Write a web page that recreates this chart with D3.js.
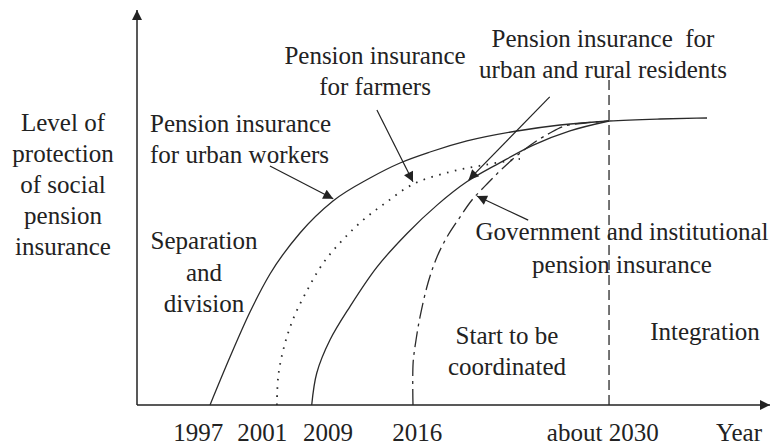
<!DOCTYPE html>
<html>
<head>
<meta charset="utf-8">
<script src="https://cdn.jsdelivr.net/npm/d3@7"></script>
<style>
  html, body { margin: 0; padding: 0; background: #fff; }
  svg { display: block; }
  text { font-family: "Liberation Serif", "Times New Roman", "DejaVu Serif", serif; fill: #222; }
</style>
</head>
<body>
<svg id="chart" width="771" height="446"></svg>
<script>
// ---------------- DATA (conceptual units 0–100) ----------------
const tickLabels = ["1997", "2001", "2009", "2016", "about 2030"];
const tickValues = [9.6, 19.7, 30.1, 44.2, 73.5];
const xAxisTitle = "Year";
const yAxisTitle = ["Level of", "protection", "of social", "pension", "insurance"];

// Curve: pension insurance for urban workers (from 1997)
const urbanWorkersX = [11.53, 14.69, 17.85, 21.01, 25.75, 30.96, 36.81, 41.55, 46.29, 52.13, 60.03, 66.82, 74.57, 82.62, 90.05];
const urbanWorkersY = [0, 12.15, 23.54, 33.16, 43.54, 51.65, 57.47, 61.27, 64.05, 66.84, 69.37, 70.89, 71.90, 72.41, 72.66];

// Curve: pension insurance for farmers (from 2001)
const farmersX = [22.1, 22.3, 23.1, 24.6, 26.9, 29.4, 32.5, 35.7, 39.2, 43.6, 49.4, 55.0, 60.5];
const farmersY = [0, 7.1, 13.9, 21.5, 29.1, 35.9, 41.8, 46.8, 51.1, 55.9, 59.0, 60.8, 62.3];

// Curve: pension insurance for urban and rural residents (from 2009)
const residentsX = [27.6, 28.4, 30.5, 33.6, 37.9, 42.7, 47.4, 52.1, 57.3, 62.6, 68.4, 74.57];
const residentsY = [0, 8.1, 16.5, 24.8, 34.9, 43.5, 50.6, 56.5, 61.3, 65.8, 69.4, 71.9];

// Curve: government and institutional pension insurance (from 2016)
const governmentX = [43.6, 43.62, 44.08, 44.71, 45.97, 47.39, 48.97, 51.03, 52.92, 55.29, 57.82, 60.51, 62.87, 65.24, 67.61, 70.77, 74.57];
const governmentY = [0, 10.63, 16.46, 22.28, 30.89, 37.47, 42.53, 47.59, 51.90, 55.95, 60.0, 63.80, 66.58, 68.86, 70.63, 71.39, 71.9];

// Integration boundary (about 2030)
const boundaryX = 74.57;
const boundaryTop = 83;

// Pointer arrows: [tailX, tailY, tipX, tipY]
const pointerWorkers   = [21.0, 60.5, 31.0, 52.2];
const pointerFarmers   = [37.9, 74.7, 43.6, 56.5];
const pointerResidents = [65.2, 78.0, 52.4, 57.0];
const pointerGov       = [61.8, 46.8, 53.7, 52.9];

// Annotation texts
const labelWorkers   = ["Pension insurance", "for urban workers"];
const labelFarmers   = ["Pension insurance", "for farmers"];
const labelResidents = ["Pension insurance  for", "urban and rural residents"];
const labelGov       = ["Government and institutional", "pension insurance"];
const labelStage1    = ["Separation", "and", "division"];
const labelStage2    = ["Start to be", "coordinated"];
const labelStage3    = ["Integration"];

// ---------------- DRAWING ----------------
const svg = d3.select("#chart");
const x = d3.scaleLinear().domain([0, 100]).range([137, 770]);
const y = d3.scaleLinear().domain([0, 100]).range([405, 10]);
const ink = "#222";
const serif = '"Liberation Serif", "Times New Roman", "DejaVu Serif", serif';
const fs = "25px";

const defs = svg.append("defs");
function marker(id, w, h) {
  defs.append("marker")
    .attr("id", id)
    .attr("viewBox", "0 0 10 10")
    .attr("refX", 10).attr("refY", 5)
    .attr("markerWidth", w).attr("markerHeight", h)
    .attr("markerUnits", "userSpaceOnUse")
    .attr("orient", "auto")
    .append("path").attr("d", "M0,0 L10,5 L0,10 Z").attr("fill", ink);
}
marker("axisArrow", 11, 10);
marker("ptrArrow", 13, 10);

// Axes lines with arrows
svg.append("line")
  .attr("x1", x(0)).attr("y1", y(0)).attr("x2", x(0)).attr("y2", y(100))
  .attr("stroke", ink).attr("stroke-width", 1.5).attr("marker-end", "url(#axisArrow)");
svg.append("line")
  .attr("x1", x(0)).attr("y1", y(0)).attr("x2", x(100)).attr("y2", y(0))
  .attr("stroke", ink).attr("stroke-width", 1.5).attr("marker-end", "url(#axisArrow)");

// Tick labels via d3 axis
const axis = d3.axisBottom(x)
  .tickValues(tickValues)
  .tickFormat((d, i) => tickLabels[i])
  .tickSize(0).tickSizeOuter(0).tickPadding(0);
const gAxis = svg.append("g").attr("transform", `translate(0,${y(0)})`).call(axis);
gAxis.attr("font-family", null).attr("font-size", null);
gAxis.select(".domain").remove();
gAxis.selectAll("text")
  .attr("dy", 0).attr("y", 36)
  .style("font-family", serif)
  .style("font-size", fs).attr("fill", ink);

svg.append("text").attr("x", x(95.1)).attr("y", y(0) + 36)
  .attr("text-anchor", "middle").style("font-family", serif).style("font-size", fs).text(xAxisTitle);

// Curves
const smooth = d3.line().x(d => x(d[0])).y(d => y(d[1])).curve(d3.curveMonotoneX);
const steep = d3.line().x(d => x(d[0])).y(d => y(d[1])).curve(d3.curveCatmullRom.alpha(0.5));
function curve(xs, ys, gen, dash, width) {
  svg.append("path")
    .datum(xs.map((v, i) => [v, ys[i]]))
    .attr("d", gen)
    .attr("fill", "none")
    .attr("stroke", "#2a2a2a")
    .attr("stroke-width", width)
    .attr("stroke-dasharray", dash);
}
curve(urbanWorkersX, urbanWorkersY, smooth, null, 1.3);
curve(farmersX, farmersY, steep, "1.6,6.5", 1.8);
curve(residentsX, residentsY, steep, null, 1.3);
curve(governmentX, governmentY, steep, "16,5,3,5", 1.3);

// Boundary line
svg.append("line")
  .attr("x1", x(boundaryX)).attr("x2", x(boundaryX))
  .attr("y1", y(0)).attr("y2", y(boundaryTop))
  .attr("stroke", "#2a2a2a").attr("stroke-width", 1.3)
  .attr("stroke-dasharray", "10,5");

// Pointer arrows
[pointerWorkers, pointerFarmers, pointerResidents, pointerGov].forEach(p => {
  svg.append("line")
    .attr("x1", x(p[0])).attr("y1", y(p[1]))
    .attr("x2", x(p[2])).attr("y2", y(p[3]))
    .attr("stroke", ink).attr("stroke-width", 1.2)
    .attr("marker-end", "url(#ptrArrow)");
});

// Text blocks
function block(lines, px, py, anchor, lh) {
  const t = svg.append("text")
    .attr("x", px).attr("y", py)
    .attr("text-anchor", anchor)
    .style("font-family", serif)
    .style("font-size", fs);
  lines.forEach((s, i) => {
    t.append("tspan").attr("x", px).attr("y", py + i * lh).style("white-space", "pre").text(s);
  });
}
block(yAxisTitle, 63, 131, "middle", 31);
block(labelWorkers, 150, 132, "start", 31);
block(labelFarmers, 375, 64, "middle", 31);
block(labelResidents, 603, 47, "middle", 31);
block(labelGov, 622, 240, "middle", 33);
block(labelStage1, 204, 249, "middle", 31.5);
block(labelStage2, 507, 344, "middle", 31);
block(labelStage3, 705, 340, "middle", 31);
</script>
</body>
</html>
